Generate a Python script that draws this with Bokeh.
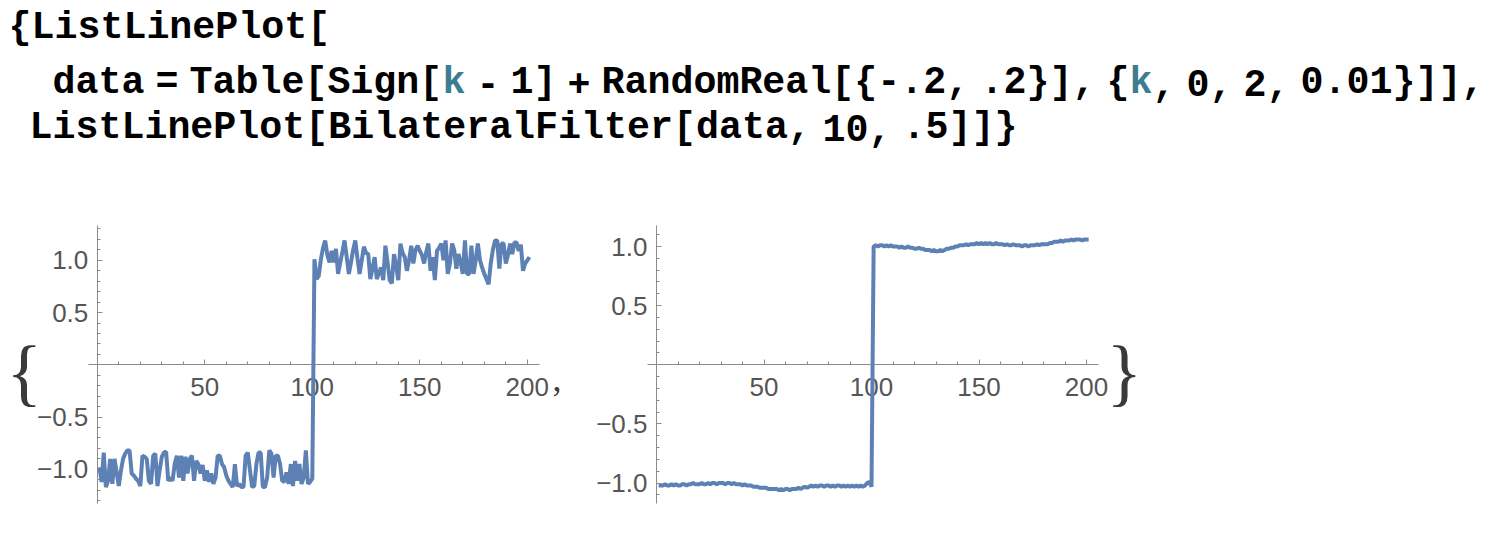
from bokeh.plotting import figure
from bokeh.models import Range1d, LinearAxis, FixedTicker, Label, CustomJSTickFormatter
from bokeh.embed import file_html
from bokeh.resources import INLINE

# ListLinePlot[data] : Sign[k - 1] + noise, k = 0 .. 2 step 0.01 (201 points)
noisy = [
    -0.98, -1.12, -0.84, -1.17, -1.11, -0.90, -1.14, -0.90, -1.03, -1.16,
    -1.01, -0.90, -0.85, -0.82, -0.82, -1.04, -1.06, -1.09, -1.11, -1.16,
    -0.87, -0.88, -0.90, -1.11, -1.14, -0.87, -0.85, -1.16, -1.01, -0.88,
    -0.84, -0.83, -1.11, -1.08, -1.11, -0.95, -0.87, -1.08, -0.87, -1.11,
    -0.88, -1.04, -0.90, -0.87, -1.11, -0.92, -0.95, -1.04, -0.96, -1.11,
    -1.01, -1.12, -1.04, -1.14, -1.08, -0.87, -0.87, -0.95, -0.98, -1.06,
    -1.11, -1.14, -1.17, -0.95, -1.16, -1.14, -1.17, -1.17, -0.87, -0.84,
    -1.01, -1.17, -1.16, -0.95, -0.84, -0.84, -1.17, -1.17, -1.08, -0.82,
    -0.85, -1.08, -0.87, -0.87, -0.95, -1.11, -1.12, -1.03, -1.14, -0.95,
    -1.16, -0.92, -1.11, -0.95, -1.14, -1.08, -0.82, -1.14, -1.12, -1.09,
    1.01, 0.82, 0.85, 1.01, 1.12, 1.19, 1.05, 0.98, 1.09, 0.98,
    1.11, 0.87, 0.98, 1.08, 1.19, 1.03, 0.87, 0.98, 1.10, 1.19,
    1.02, 0.87, 1.00, 1.13, 1.07, 1.06, 0.82, 0.92, 1.03, 0.82,
    0.88, 0.93, 0.81, 1.14, 0.98, 0.81, 0.78, 1.06, 0.95, 0.81,
    1.16, 1.07, 1.03, 0.90, 1.00, 1.14, 0.97, 1.10, 1.14, 1.09,
    1.05, 0.97, 1.08, 1.16, 0.90, 1.03, 0.81, 1.09, 1.12, 1.16,
    1.00, 1.19, 0.87, 0.97, 1.16, 1.10, 0.92, 1.06, 0.98, 0.87,
    1.19, 0.87, 0.87, 1.14, 0.87, 1.00, 1.16, 1.00, 0.93, 0.87,
    0.82, 0.77, 0.97, 1.10, 1.19, 1.19, 0.92, 1.16, 1.16, 0.97,
    1.05, 1.16, 1.06, 1.17, 1.17, 1.09, 1.15, 0.90, 0.97, 1.00,
    1.03,
]

# ListLinePlot[BilateralFilter[data, 10, .5]]
smooth = [
    -1.02, -1.02, -1.02, -1.01, -1.02, -1.02, -1.01, -1.02, -1.01, -1.02,
    -1.02, -1.01, -1.01, -1.02, -1.01, -1.01, -1.00, -1.01, -1.01, -1.01,
    -1.00, -1.01, -1.01, -1.00, -1.01, -1.00, -1.00, -1.01, -1.00, -1.00,
    -1.00, -1.01, -1.00, -1.00, -1.01, -1.00, -1.01, -1.01, -1.01, -1.02,
    -1.01, -1.02, -1.02, -1.02, -1.03, -1.03, -1.03, -1.04, -1.04, -1.04,
    -1.04, -1.05, -1.05, -1.05, -1.05, -1.05, -1.06, -1.05, -1.06, -1.05,
    -1.05, -1.06, -1.05, -1.05, -1.05, -1.04, -1.05, -1.04, -1.03, -1.04,
    -1.03, -1.02, -1.03, -1.02, -1.03, -1.02, -1.02, -1.03, -1.02, -1.02,
    -1.03, -1.02, -1.03, -1.02, -1.02, -1.03, -1.02, -1.03, -1.02, -1.03,
    -1.02, -1.03, -1.02, -1.03, -1.02, -1.03, -1.02, -1.00, -0.99, -1.03,
    1.00, 1.01, 1.00, 1.01, 1.01, 1.00, 1.01, 1.00, 1.01, 1.00,
    1.00, 1.00, 0.99, 1.00, 0.99, 0.99, 1.00, 0.99, 0.99, 0.98,
    0.98, 0.99, 0.98, 0.98, 0.97, 0.97, 0.97, 0.96, 0.97, 0.96,
    0.96, 0.97, 0.96, 0.97, 0.98, 0.98, 0.99, 0.99, 1.00, 1.00,
    1.01, 1.01, 1.01, 1.02, 1.01, 1.02, 1.02, 1.02, 1.03, 1.02,
    1.03, 1.02, 1.03, 1.02, 1.03, 1.02, 1.02, 1.03, 1.02, 1.02,
    1.02, 1.01, 1.02, 1.01, 1.01, 1.02, 1.01, 1.01, 1.01, 1.00,
    1.01, 1.01, 1.00, 1.01, 1.01, 1.01, 1.02, 1.01, 1.02, 1.02,
    1.02, 1.02, 1.03, 1.03, 1.04, 1.04, 1.04, 1.05, 1.04, 1.05,
    1.05, 1.05, 1.06, 1.05, 1.06, 1.06, 1.06, 1.05, 1.06, 1.06,
    1.06,
]

index = list(range(1, len(noisy) + 1))

x_ticks = [50, 100, 150, 200]
y_ticks = [-1.0, -0.5, 0.5, 1.0]

# input cell text, split where the colour changes
line1 = [("{ListLinePlot[", "black")]
line2 = [("data = Table[Sign[", "black"), ("k", "teal"),
         (" - 1] + RandomReal[{-.2, .2}], {", "black"), ("k", "teal"),
         (", 0, 2, 0.01}]],", "black")]
line3 = [("ListLinePlot[BilateralFilter[data, 10, .5]]}", "black")]

W, H = 1488, 527
LINE_COLOR = "#5E81B5"
AXIS_COLOR = "#8c8c8c"
TICK_TEXT = "#555555"
TEXT_COLORS = {"black": "#000000", "teal": "#3C7D91"}

# where the two plots sit on the canvas (origin pixel, pixels per unit)
L_OX, L_OY, L_SX, L_SY = 96.8, 364.3, 2.15, 104.5
R_OX, R_OY, R_SX, R_SY = 656.0, 364.3, 2.15, 118.3

p = figure(
    width=W, height=H,
    x_range=Range1d(-L_OX / L_SX, (W - L_OX) / L_SX),
    y_range=Range1d((L_OY - H) / L_SY, L_OY / L_SY),
    x_axis_type=None, y_axis_type=None,
    output_backend="svg", toolbar_location=None, min_border=0,
)
p.extra_x_ranges = {"r": Range1d(-R_OX / R_SX, (W - R_OX) / R_SX)}
p.extra_y_ranges = {"r": Range1d((R_OY - H) / R_SY, R_OY / R_SY)}
p.outline_line_color = None
p.background_fill_color = "white"
p.border_fill_color = "white"

y_fmt = CustomJSTickFormatter(code="return tick.toFixed(1).replace('-', '\u2212');")


def style(ax):
    ax.axis_line_color = AXIS_COLOR
    ax.major_tick_line_color = AXIS_COLOR
    ax.minor_tick_line_color = AXIS_COLOR
    ax.major_tick_in = 5
    ax.major_tick_out = 0
    ax.minor_tick_in = 3
    ax.minor_tick_out = 0
    ax.major_label_text_font = "Liberation Sans"
    ax.major_label_text_font_size = "26px"
    ax.major_label_text_color = TICK_TEXT
    ax.level = "underlay"


def add_axes(rname, ybounds, ymax_tenths):
    xa = LinearAxis(x_range_name=rname, y_range_name=rname, fixed_location=0,
                    bounds=(-4, 205.7),
                    ticker=FixedTicker(ticks=x_ticks, minor_ticks=list(range(10, 210, 10))))
    style(xa)
    xa.major_label_standoff = 13
    p.add_layout(xa, "below")
    minor = [k / 10 for k in range(-ymax_tenths, ymax_tenths + 1) if k != 0]
    ya = LinearAxis(x_range_name=rname, y_range_name=rname, fixed_location=0,
                    bounds=ybounds, formatter=y_fmt,
                    ticker=FixedTicker(ticks=y_ticks, minor_ticks=minor))
    style(ya)
    ya.major_label_standoff = 9
    p.add_layout(ya, "left")


add_axes("default", (-1.33, 1.33), 13)
add_axes("r", (-1.175, 1.18), 11)

p.line(index, noisy, line_color=LINE_COLOR, line_width=4)
p.line(index, smooth, line_color=LINE_COLOR, line_width=4,
       x_range_name="r", y_range_name="r")


def px(x):
    return (x - L_OX) / L_SX


def py(y):
    return (L_OY - y) / L_SY


def put(text, x, y, font, size, color, bold=False):
    p.add_layout(Label(x=px(x), y=py(y), text=text, text_font=font,
                       text_font_size=size, text_color=color,
                       text_font_style="bold" if bold else "normal",
                       text_baseline="alphabetic", text_align="left"))


# monospace cell layout: 23px per character, narrower gaps for spaces
ADV, GAP = 23.0, 11.0


def put_line(segments, x0, base):
    x = x0
    for s, c in segments:
        for i, word in enumerate(s.split(" ")):
            if i > 0:
                x += GAP
            if word:
                put(word, x, base, "Liberation Mono", "38.3px", TEXT_COLORS[c], bold=True)
                x += len(word) * ADV


put_line(line1, 8, 27)
put_line(line2, 52, 82)
put_line(line3, 29, 127)

# list braces and separating comma around the two graphics
put("{", 6, 371, "Liberation Serif", "74px", "#3a3a3a")
put(",", 552, 378, "Liberation Serif", "36px", "#3a3a3a")
put("}", 1106, 371, "Liberation Serif", "74px", "#3a3a3a")

open("out.html", "w").write(file_html(p, INLINE))
